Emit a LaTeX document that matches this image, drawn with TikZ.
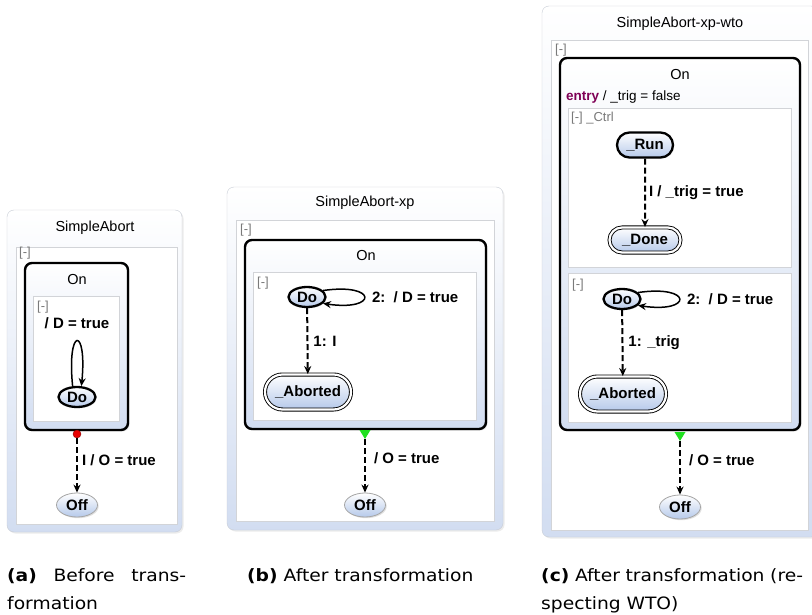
\documentclass[tikz,border=0pt]{standalone}
\usepackage{fontspec}
\setmainfont{Liberation Sans}
\newfontfamily\capfont[FakeStretch=1.1]{DejaVu Sans}
\usepackage{xcolor}
\usepackage{tikz}
\usetikzlibrary{
  arrows.meta,
  positioning,
  shapes.geometric,
  shapes.misc,
  shadows,
}
\definecolor{ink}{HTML}{000000}
\definecolor{framegray}{HTML}{C8CDD6}
\definecolor{regiongray}{HTML}{D2D4D8}
\definecolor{boxblue}{HTML}{D2DDF1}
\definecolor{stateblue}{HTML}{B6C9EA}
\definecolor{tagtext}{HTML}{7A7A7A}
\definecolor{keyword}{HTML}{7F0055}
\definecolor{abortred}{HTML}{E80000}
\definecolor{joingreen}{HTML}{1FE01F}
\tikzset{
  >={Stealth[length=8pt,width=7pt]},
  every node/.append style={text=ink},
  chart/.style={
    draw=framegray,
    rounded corners=7pt,
    top color=white,
    bottom color=boxblue,
    drop shadow={shadow xshift=1.5pt, shadow yshift=-1.5pt, opacity=0.15},
  },
  region/.style={draw=regiongray, fill=white},
  macro/.style={
    draw=ink,
    line width=2.4pt,
    rounded corners=7pt,
    top color=white,
    bottom color=boxblue,
    drop shadow={shadow xshift=1.5pt, shadow yshift=-1.5pt, opacity=0.2},
  },
  title/.style={font=\fontsize{14.5}{17}\selectfont},
  tag/.style={font=\fontsize{13}{15}\selectfont, text=tagtext, inner sep=0pt, anchor=west},
  stbase/.style={
    inner sep=0pt,
    font=\fontsize{15}{17}\selectfont\bfseries,
    top color=white,
    bottom color=stateblue,
    drop shadow={shadow xshift=1.2pt, shadow yshift=-1.2pt, opacity=0.25},
  },
  boldstate/.style={stbase, ellipse, draw=ink, line width=2.3pt, minimum width=37pt, minimum height=20pt},
  runstate/.style={stbase, rounded rectangle, draw=ink, line width=2.3pt, minimum width=56pt, minimum height=25pt},
  finalstate/.style={
    stbase,
    rounded rectangle,
    draw=ink,
    line width=0.9pt,
    double=white,
    double distance=2.2pt,
    minimum width=#1,
    minimum height=35pt,
  },
  finalstate/.default=86pt,
  plainstate/.style={stbase, ellipse, draw=gray!70, line width=0.8pt, minimum width=41pt, minimum height=24pt},
  abortdot/.style={circle, fill=abortred, draw=red!55!black, line width=0.4pt, minimum size=8pt, inner sep=0pt},
  trans/.style={->, dash pattern=on 6pt off 3pt, line width=2pt},
  selftrans/.style={->, line width=1.5pt},
  guard/.style={font=\fontsize{15}{17}\selectfont\bfseries, inner sep=2pt},
  caption/.style={font=\capfont\fontsize{17}{28}\selectfont, inner sep=0pt, align=left},
}

\begin{document}
\begin{tikzpicture}[x=1pt,y=-1pt]
  \useasboundingbox (0,0) rectangle (812,615);
  \fill[white] (0,0) rectangle (812,615);

  % (a) before the transformation
  \draw[chart] (7,210) rectangle (182,532);
  \node[title] (titleA) at (95,228) {SimpleAbort};
  \draw[region] (16,247) rectangle (177,524);
  \node[tag] at (19,253) {[-]};
  \draw[macro] (25,263) rectangle (128,430);
  \node[title] (onA) at (77,280) {On};
  \draw[region] (33,296) rectangle (119,421);
  \node[tag] at (37,307) {[-]};
  \node[boldstate] (doA) at (77,397) {Do};
  \draw[selftrans] (doA.112) .. controls +(-6,-60) and +(6,-60) .. node[guard, above, yshift=10pt] {/ D = true} (doA.68);
  \node[abortdot] (stopA) at (77,434) {};
  \node[plainstate] (offA) at (77,505) {Off};
  \draw[trans] (stopA) -- node[guard, right, pos=0.4, xshift=2pt] {I / O = true} (offA);

  % (b) frames
  \draw[chart] (227,187) rectangle (503,530);
  \node[title] (titleB) at (365,203) {SimpleAbort-xp};
  \draw[region] (236,220) rectangle (494,521);
  \node[tag] at (240,230) {[-]};
  \draw[macro] (245,240) rectangle (486,429);
  \node[title] (onB) at (366,256) {On};
  \draw[region] (253,272) rectangle (476,420);

  % (c) frames and control region
  \draw[chart] (542,6) rectangle (818,537);
  \node[title] (titleC) at (680,24) {SimpleAbort-xp-wto};
  \draw[region] (551,40) rectangle (808,530);
  \node[tag] at (555,50) {[-]};
  \draw[macro] (560,58) rectangle (800,430);
  \node[title] (onC) at (680,75) {On};
  \node[font=\fontsize{13.5}{16}\selectfont, anchor=west, inner sep=0pt] (entryC) at (566,97)
    {\textcolor{keyword}{\bfseries entry} / \_trig = false};
  \draw[region] (568,108) rectangle (791,267);
  \node[tag] at (571,118) {[-] \_Ctrl};
  \node[runstate] (runC) at (645,145) {\_Run};
  \node[finalstate=71pt, minimum height=25pt] (doneC) at (645,240) {\_Done};
  \draw[trans] (runC) -- node[guard, right, xshift=1pt] {I / \_trig = true} (doneC);
  \draw[region] (568,273) rectangle (791,422);

  % abort regions of (b) and (c)
  \foreach \id/\dx/\dy/\cond in {B/0/0/I, C/315/2/\_trig} {
    \begin{scope}[shift={(\dx,\dy)}]
      \node[tag] at (257,283) {[-]};
      \node[boldstate] (do\id) at (307,297) {Do};
      \node[finalstate] (aborted\id) at (308,392) {\_Aborted};
      \draw[selftrans] (do\id.22) .. controls +(55,-8) and +(55,8) .. node[guard, right, xshift=5pt] {2:\ \ / D = true} (do\id.-22);
      \draw[trans] (do\id) -- node[guard, right, xshift=3pt] {1: \cond} (aborted\id);
      \coordinate (join\id) at (365,439);
      \fill[joingreen] (359.5,430) -- (370.5,430) -- (join\id) -- cycle;
      \node[plainstate] (off\id) at (365,505) {Off};
      \draw[trans] (join\id) -- node[guard, right, pos=0.35, xshift=6pt] {/ O = true} (off\id);
    \end{scope}
  }

  % captions
  \node[caption, anchor=north west, text width=179pt] (capA) at (7,568)
    {\textbf{(a)}\hfill Before\hfill trans-\\formation};
  \node[caption, anchor=north west] (capB) at (247,568) {\textbf{(b)} After transformation};
  \node[caption, anchor=north west, text width=266pt] (capC) at (541,568)
    {\textbf{(c)} After transformation (re-\\specting WTO)};
\end{tikzpicture}
\end{document}
